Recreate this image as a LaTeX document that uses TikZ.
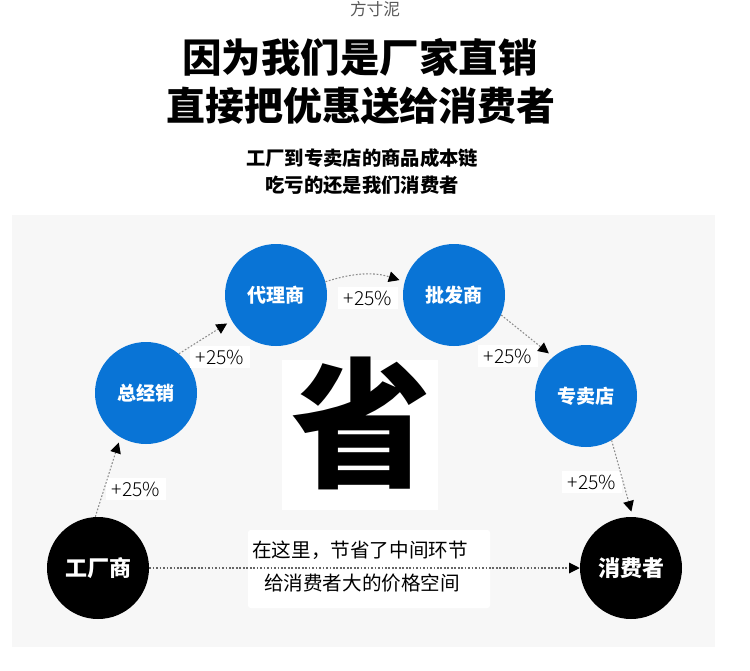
\documentclass[tikz,border=0pt]{standalone}
\usepackage{fontspec}
\setmainfont{Noto Sans CJK SC}
\newfontfamily\heavyfont{Noto Sans CJK SC Black}
\newfontfamily\lightfont{Noto Sans CJK SC Light}
\usetikzlibrary{arrows.meta,positioning}
\definecolor{stageblue}{RGB}{9,116,214}
\definecolor{panelgray}{RGB}{247,247,247}
\newcommand*{\fsz}[1]{\fontsize{#1}{#1}\selectfont}

\begin{document}
\begin{tikzpicture}[x=0.75pt, y=-0.75pt, >={Triangle[length=8pt,width=8pt,color=black]}]
    \tikzstyle{stage}=[circle, fill=stageblue, text=white, minimum size=76.5pt, inner sep=0pt, font=\bfseries\fsz{14.3}]
    \tikzstyle{endpoint}=[stage, fill=black, font=\bfseries\fsz{16.5}]
    \tikzstyle{rate}=[fill=white, inner xsep=4pt, inner ysep=3pt, font=\lightfont\fsz{14.5}]
    \tikzstyle{flow}=[->, draw=black!45, line width=0.8pt, dash pattern=on 1.3pt off 1.3pt, shorten >=4pt]
    \useasboundingbox (0,0) rectangle (750,671);
    \fill[panelgray] (12,215) rectangle (715,647);
    % header
    \node[text=black!65, font=\fsz{12.5}]  (brand)  at (375,9)   {方寸泥};
    \node[font=\heavyfont\fsz{29.6}]       (title1) at (360,57)  {因为我们是厂家直销};
    \node[font=\heavyfont\fsz{29.2}]       (title2) at (361,106) {直接把优惠送给消费者};
    \node[font=\bfseries\fsz{14.5}]        (sub1)   at (362,158) {工厂到专卖店的商品成本链};
    \node[font=\bfseries\fsz{14.5}]        (sub2)   at (362,185) {吃亏的还是我们消费者};
    % big character
    \node[fill=white, minimum width=117pt, minimum height=112.5pt] (savebox) at (360,435) {};
    \node[font=\heavyfont\fsz{105}]        (save)   at (361,423) {省};
    % chain
    \node[endpoint] (factory) at (98,568)  {工厂商};
    \node[stage]    (dist)    at (146,393) {总经销};
    \node[stage]    (agent)   at (276,295) {代理商};
    \node[stage]    (whole)   at (454,295) {批发商};
    \node[stage]    (shop)    at (586,396) {专卖店};
    \node[endpoint] (buyer)   at (631,568) {消费者};
    \node[rate] (r1) at (136,489) {+25\%};
    \node[rate] (r2) at (220,357) {+25\%};
    \node[rate] (r3) at (368,298) {+25\%};
    \node[rate] (r4) at (508,356) {+25\%};
    \node[rate] (r5) at (592,482) {+25\%};
    \node[fill=white, rounded corners=2pt, minimum width=181.5pt, minimum height=58.5pt] (note) at (369,569) {};
    \path[every edge/.style={flow}]
(factory.93)  edge                  (dist.240)
(dist.50)     edge                  (agent.210)
(agent.15)    edge[bend left=18]    (whole.165)
(whole.337)   edge                  (shop.130)
(shop.300)    edge                  (buyer.88);
    \draw[flow, draw=black!60, shorten >=0pt] (factory.east) -- (buyer.west);
    \node[font=\fsz{14.7}] (note1) at (360,550) {在这里，节省了中间环节};
    \node[font=\fsz{14.7}] (note2) at (362,583) {给消费者大的价格空间};
\end{tikzpicture}
\end{document}
